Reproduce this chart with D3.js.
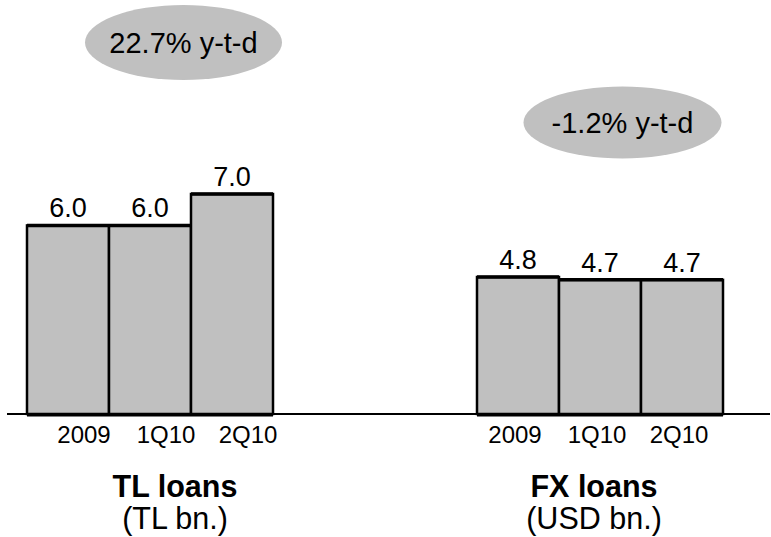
<!DOCTYPE html>
<html>
<head>
<meta charset="utf-8">
<script src="https://cdn.jsdelivr.net/npm/d3@7"></script>
<style>
  html, body { margin: 0; padding: 0; background: #fff; }
  svg { display: block; font-family: "Liberation Sans", Arial, sans-serif; }
</style>
</head>
<body>
<svg id="chart" width="771" height="537"></svg>
<script>
// Periods shown in both panels
const periods = ["2009", "1Q10", "2Q10"];

// Loan volumes
const tlLoans = [6.0, 6.0, 7.0];   // TL bn.
const fxLoans = [4.8, 4.7, 4.7];   // USD bn.

// Panel titles, units and year-to-date growth
const panelTitles = ["TL loans", "FX loans"];
const panelUnits = ["(TL bn.)", "(USD bn.)"];
const ytdGrowth = ["22.7% y-t-d", "-1.2% y-t-d"];

const svg = d3.select("#chart");
const baseY = 414;
const fill = "#c0c0c0";

// Axis baseline across the full width
svg.append("line")
  .attr("x1", 7).attr("x2", 770)
  .attr("y1", baseY).attr("y2", baseY)
  .attr("stroke", "#000").attr("stroke-width", 2);

// Layout of each panel: bar span, value scale, badge placement
const panels = [
  { values: tlLoans, x0: 27, x1: 273, maxV: 7.0, maxH: 220, tickShift: 16,
    badge: { cx: 183.5, cy: 42.5, rx: 98.5, ry: 37.5 }, titleX: 175 },
  { values: fxLoans, x0: 477, x1: 723, maxV: 4.8, maxH: 137, tickShift: -3,
    badge: { cx: 622.5, cy: 122.5, rx: 99, ry: 36 }, titleX: 594 }
];

panels.forEach((p, i) => {
  const g = svg.append("g");
  const x = d3.scaleBand().domain(periods).range([p.x0, p.x1]).padding(0);
  const y = d3.scaleLinear().domain([0, p.maxV]).range([baseY, baseY - p.maxH]);
  const data = periods.map((k, j) => ({ k, v: p.values[j] }));

  // Bars
  g.selectAll("rect.bar").data(data).join("rect")
    .attr("class", "bar")
    .attr("x", d => x(d.k))
    .attr("y", d => y(d.v))
    .attr("width", x.bandwidth())
    .attr("height", d => baseY - y(d.v))
    .attr("fill", fill)
    .attr("stroke", "#000")
    .attr("stroke-width", 2.5);

  // Heavier top edge on each bar
  g.selectAll("line.top").data(data).join("line")
    .attr("class", "top")
    .attr("x1", d => x(d.k)).attr("x2", d => x(d.k) + x.bandwidth())
    .attr("y1", d => y(d.v)).attr("y2", d => y(d.v))
    .attr("stroke", "#000").attr("stroke-width", 3.5);

  // Heavier baseline under the bars
  g.append("line")
    .attr("x1", p.x0).attr("x2", p.x1)
    .attr("y1", baseY + 1).attr("y2", baseY + 1)
    .attr("stroke", "#000").attr("stroke-width", 3);

  // Value labels
  g.selectAll("text.val").data(data).join("text")
    .attr("class", "val")
    .attr("x", d => x(d.k) + x.bandwidth() / 2)
    .attr("y", d => y(d.v) - 8)
    .attr("text-anchor", "middle")
    .attr("font-size", 27)
    .attr("fill", "#000")
    .text(d => d3.format(".1f")(d.v));

  // Period labels
  g.selectAll("text.cat").data(data).join("text")
    .attr("class", "cat")
    .attr("x", d => x(d.k) + x.bandwidth() / 2 + p.tickShift)
    .attr("y", 443)
    .attr("text-anchor", "middle")
    .attr("font-size", 24)
    .attr("fill", "#000")
    .text(d => d.k);

  // Growth badge
  g.append("ellipse")
    .attr("cx", p.badge.cx).attr("cy", p.badge.cy)
    .attr("rx", p.badge.rx).attr("ry", p.badge.ry)
    .attr("fill", fill);
  g.append("text")
    .attr("x", p.badge.cx).attr("y", p.badge.cy + 10.5)
    .attr("text-anchor", "middle")
    .attr("font-size", 29)
    .attr("fill", "#000")
    .text(ytdGrowth[i]);

  // Panel title and unit
  g.append("text")
    .attr("x", p.titleX).attr("y", 497)
    .attr("text-anchor", "middle")
    .attr("font-size", 30.5).attr("font-weight", "bold")
    .attr("fill", "#000")
    .text(panelTitles[i]);
  g.append("text")
    .attr("x", p.titleX).attr("y", 529)
    .attr("text-anchor", "middle")
    .attr("font-size", 30.5)
    .attr("fill", "#000")
    .text(panelUnits[i]);
});
</script>
</body>
</html>
